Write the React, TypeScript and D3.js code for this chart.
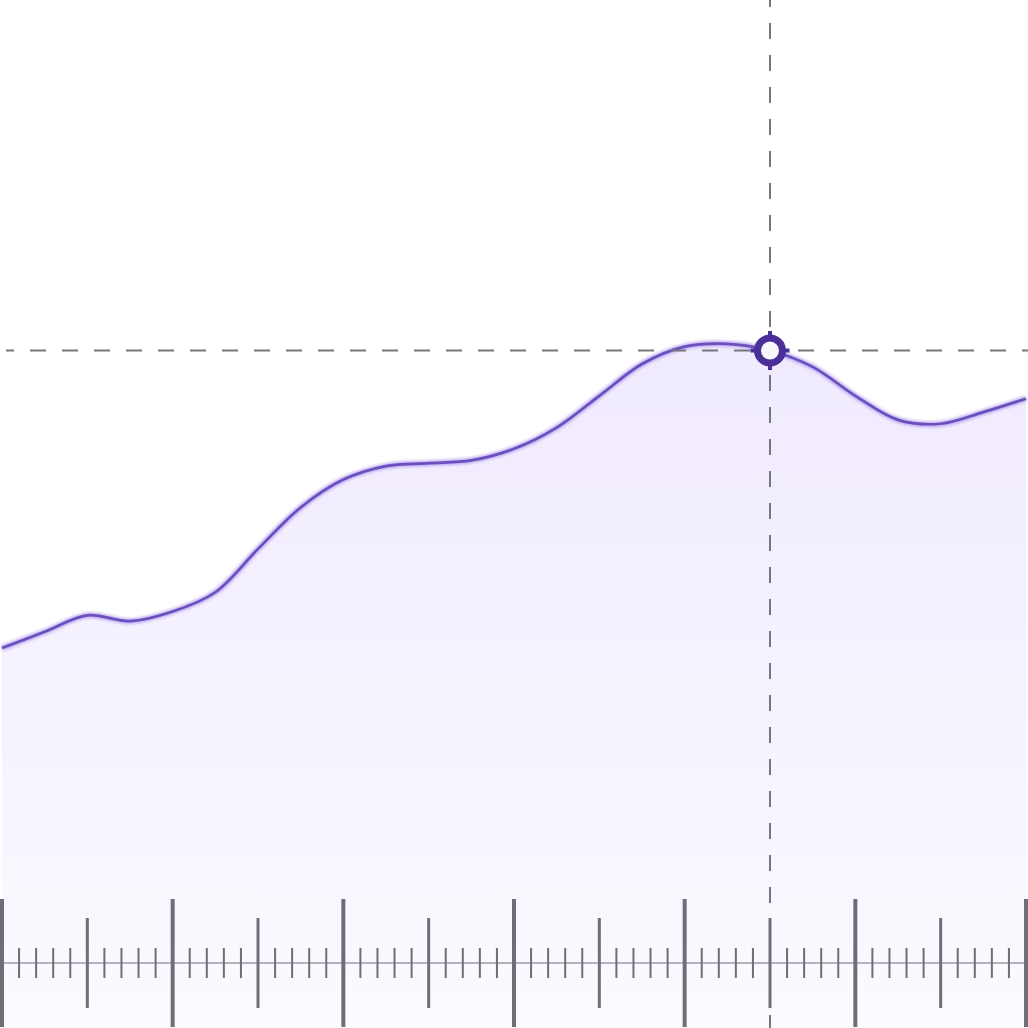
import { useEffect, useRef } from "react";
import * as d3 from "d3";

// sample index along the x axis
const steps = d3.range(0, 25);
// level at each sample
const levels = [
  32.7, 34.4, 36.1, 35.5, 36.5, 38.5, 43.0, 47.3, 50.2, 51.6, 51.9, 52.2, 53.4,
  55.6, 58.9, 62.2, 64.0, 64.3, 63.6, 61.9, 58.9, 56.4, 56.0, 57.2, 58.6,
];
// hovered sample
const focusIndex = 18;
// ruler ticks (in sample units)
const majorTicks = d3.range(0, 25, 4);
const mediumTicks = d3.range(2, 25, 4);
const minorTicks = d3.range(0, 24.01, 0.4).filter((t) => Math.abs(t / 2 - Math.round(t / 2)) > 0.01);

export default function App() {
  const ref = useRef<SVGSVGElement>(null);

  useEffect(() => {
    if (!ref.current) return;
    d3.select(ref.current).selectAll("*").remove();

    const width = 1028;
    const height = 1028;
    const rulerY = 963;

    const data = steps.map((s, i) => ({ s, v: levels[i] }));

    const x = d3.scaleLinear().domain([0, 24]).range([2, 1026]);
    const y = d3.scaleLinear().domain([0, 100]).range([rulerY, 0]);

    const svg = d3
      .select(ref.current)
      .attr("width", width)
      .attr("height", height)
      .attr("viewBox", `0 0 ${width} ${height}`);

    const defs = svg.append("defs");
    const grad = defs
      .append("linearGradient")
      .attr("id", "areaFill")
      .attr("gradientUnits", "userSpaceOnUse")
      .attr("x1", 0)
      .attr("x2", 0)
      .attr("y1", 344)
      .attr("y2", height);
    grad.append("stop").attr("offset", "0%").attr("stop-color", "#8b5cf6").attr("stop-opacity", 0.13);
    grad.append("stop").attr("offset", "100%").attr("stop-color", "#8b5cf6").attr("stop-opacity", 0.03);

    defs
      .append("filter")
      .attr("id", "glow")
      .attr("x", "-5%")
      .attr("y", "-20%")
      .attr("width", "110%")
      .attr("height", "140%")
      .append("feGaussianBlur")
      .attr("stdDeviation", 1.6);

    const curve = d3.curveCatmullRom.alpha(0.5);

    // area
    svg
      .append("path")
      .datum(data)
      .attr("fill", "url(#areaFill)")
      .attr(
        "d",
        d3
          .area<{ s: number; v: number }>()
          .x((d) => x(d.s))
          .y0(height)
          .y1((d) => y(d.v))
          .curve(curve)
      );

    const line = d3
      .line<{ s: number; v: number }>()
      .x((d) => x(d.s))
      .y((d) => y(d.v))
      .curve(curve);

    // halo
    svg
      .append("path")
      .datum(data)
      .attr("fill", "none")
      .attr("stroke", "#a184ea")
      .attr("stroke-width", 5.5)
      .attr("stroke-opacity", 0.7)
      .attr("filter", "url(#glow)")
      .attr("d", line);

    svg
      .append("path")
      .datum(data)
      .attr("fill", "none")
      .attr("stroke", "#6b4fbf")
      .attr("stroke-width", 2.7)
      .attr("d", line);

    const fx = x(steps[focusIndex]);
    const fy = y(levels[focusIndex]);

    // crosshair
    svg
      .append("line")
      .attr("x1", 6)
      .attr("x2", width)
      .attr("y1", fy)
      .attr("y2", fy)
      .attr("stroke", "#77757f")
      .attr("stroke-width", 2)
      .attr("stroke-dasharray", "16 16")
      .attr("stroke-dashoffset", 8);

    svg
      .append("line")
      .attr("x1", fx)
      .attr("x2", fx)
      .attr("y1", 0)
      .attr("y2", height)
      .attr("stroke", "#77757f")
      .attr("stroke-width", 2)
      .attr("stroke-dasharray", "16 16")
      .attr("stroke-dashoffset", 9);

    // ruler
    const ruler = svg.append("g").attr("stroke", "#6f6e78");
    ruler
      .append("line")
      .attr("x1", 0)
      .attr("x2", width)
      .attr("y1", rulerY)
      .attr("y2", rulerY)
      .attr("stroke-width", 1.2);

    const tickSet = (ticks: number[], half: number, w: number) =>
      ruler
        .append("g")
        .selectAll("line")
        .data(ticks)
        .join("line")
        .attr("x1", (d) => x(d))
        .attr("x2", (d) => x(d))
        .attr("y1", rulerY - half)
        .attr("y2", rulerY + half)
        .attr("stroke-width", w);

    tickSet(minorTicks, 15, 2);
    tickSet(mediumTicks, 45, 3);
    tickSet(majorTicks, 64, 4);

    // focus marker
    const marker = svg.append("g").attr("transform", `translate(${fx},${fy})`);
    marker
      .selectAll("rect")
      .data([0, 90, 180, 270])
      .join("rect")
      .attr("x", -2)
      .attr("y", -19.5)
      .attr("width", 4)
      .attr("height", 8)
      .attr("fill", "#4a2f98")
      .attr("transform", (d) => `rotate(${d})`);
    marker
      .append("circle")
      .attr("r", 12.5)
      .attr("fill", "#f8f8fc")
      .attr("stroke", "#4a2f98")
      .attr("stroke-width", 7);
  }, []);

  return (
    <svg
      ref={ref}
      style={{ position: "absolute", left: 0, top: 0, display: "block", background: "#fff" }}
    ></svg>
  );
}
